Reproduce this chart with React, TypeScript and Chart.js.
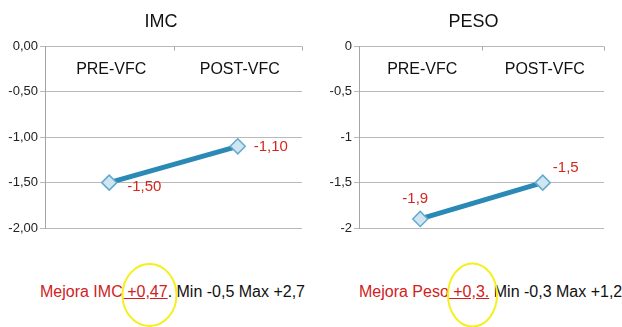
import React, { useEffect, useRef } from 'react';
import { Chart, registerables } from 'chart.js';

Chart.register(...registerables);

// ---- data ----
const categories = ['PRE-VFC', 'POST-VFC'];
const imcValues = [-1.5, -1.1];
const pesoValues = [-1.9, -1.5];
const imcValueLabels = ['-1,50', '-1,10'];
const pesoValueLabels = ['-1,9', '-1,5'];
const yMin = -2;
const yMax = 0;
const yStep = 0.5;

const FONT = '"Liberation Sans", Arial, Helvetica, sans-serif';

type Off = { dx: number; dy: number; align: CanvasTextAlign };

const overlayPlugin = {
  id: 'overlay',
  afterDatasetsDraw(chart: any, _args: any, opts: any) {
    const ctx = chart.ctx as CanvasRenderingContext2D;
    const xs = chart.scales.x;
    const area = chart.chartArea;
    ctx.save();
    // title
    ctx.fillStyle = '#111';
    ctx.font = `18px ${FONT}`;
    ctx.textAlign = 'center';
    ctx.textBaseline = 'middle';
    ctx.fillText(opts.title, opts.titleX, 22);
    const half = (xs.getPixelForValue(1) - xs.getPixelForValue(0)) / 2;
    // small tick marks at the top axis, between categories
    ctx.strokeStyle = '#a9a9a9';
    ctx.lineWidth = 1;
    for (let i = 0; i < categories.length; i++) {
      const px = Math.round(xs.getPixelForValue(i) + half) + 0.5;
      ctx.beginPath();
      ctx.moveTo(px, area.top);
      ctx.lineTo(px, area.top + 4);
      ctx.stroke();
    }
    // category labels inside the plot, below the top axis
    ctx.fillStyle = '#111';
    ctx.font = `16px ${FONT}`;
    ctx.textAlign = 'center';
    ctx.textBaseline = 'middle';
    categories.forEach((c, i) => {
      ctx.fillText(c, xs.getPixelForValue(i) + 2, area.top + 23);
    });
    // value labels
    const meta = chart.getDatasetMeta(0);
    ctx.fillStyle = '#d5261e';
    ctx.font = `15px ${FONT}`;
    const labels: string[] = opts.labels;
    const offs: Off[] = opts.offsets;
    meta.data.forEach((pt: any, i: number) => {
      const o = offs[i];
      ctx.textAlign = o.align;
      ctx.fillText(labels[i], pt.x + o.dx, pt.y + o.dy);
    });
    ctx.restore();
  },
};

function buildConfig(
  title: string,
  titleX: number,
  values: number[],
  valueLabels: string[],
  offsets: Off[],
  fmt: (v: number) => string,
  padR: number,
  yWidth: number
): any {
  return {
    type: 'line',
    data: {
      labels: categories,
      datasets: [
        {
          data: values,
          borderColor: '#2a89b5',
          borderWidth: 5,
          tension: 0,
          pointStyle: 'rectRot',
          pointRadius: 7.5,
          pointBackgroundColor: '#cfe6f2',
          pointBorderColor: '#63abcd',
          pointBorderWidth: 1.5,
        },
      ],
    },
    options: {
      responsive: false,
      animation: false,
      layout: { padding: { left: 0, right: padR, top: 0, bottom: 22 } },
      plugins: {
        legend: { display: false },
        tooltip: { enabled: false },
        title: { display: false },
        overlay: { labels: valueLabels, offsets, title, titleX },
      },
      scales: {
        x: {
          type: 'category',
          position: 'top',
          offset: true,
          ticks: { display: false },
          grid: { display: false },
          border: { display: false },
          afterFit: (s: any) => {
            s.height = 46.5;
          },
        },
        y: {
          min: yMin,
          max: yMax,
          ticks: {
            stepSize: yStep,
            color: '#222',
            font: { family: FONT, size: 13 },
            padding: 2,
            callback: (v: any) => fmt(Number(v)),
          },
          grid: { color: '#b9b9b9', lineWidth: 1, tickLength: 5, drawTicks: true },
          border: { display: true, color: '#a5a5a5', width: 1 },
          afterFit: (s: any) => {
            s.width = yWidth;
          },
        },
      },
    },
    plugins: [overlayPlugin],
  };
}

function ChartCanvas({ config, left }: { config: () => any; left: number }) {
  const ref = useRef<HTMLCanvasElement | null>(null);
  useEffect(() => {
    if (!ref.current) return;
    const chart = new Chart(ref.current, config());
    return () => chart.destroy();
  }, []);
  return (
    <canvas
      ref={ref}
      width={311}
      height={250}
      style={{ position: 'absolute', left, top: 0, width: 311, height: 250 }}
    />
  );
}

const red = '#d0221c';

export default function App() {
  const imcCfg = () =>
    buildConfig(
      'IMC',
      161,
      imcValues,
      imcValueLabels,
      [
        { dx: 18, dy: 4, align: 'left' },
        { dx: 16, dy: 1, align: 'left' },
      ],
      (v) => v.toFixed(2).replace('.', ','),
      9,
      45
    );
  const pesoCfg = () =>
    buildConfig(
      'PESO',
      162.5,
      pesoValues,
      pesoValueLabels,
      [
        { dx: -5, dy: -20, align: 'center' },
        { dx: 23, dy: -15, align: 'center' },
      ],
      (v) => String(v).replace('.', ','),
      18,
      48
    );
  const textStyle: React.CSSProperties = {
    position: 'absolute',
    top: 282,
    fontFamily: FONT,
    fontSize: 16,
    lineHeight: '20px',
    whiteSpace: 'nowrap',
    color: '#111',
  };
  return (
    <div
      style={{
        position: 'absolute',
        left: 0,
        top: 0,
        width: 622,
        height: 327,
        background: '#fff',
        overflow: 'hidden',
      }}
    >
      <ChartCanvas config={imcCfg} left={0} />
      <ChartCanvas config={pesoCfg} left={311} />
      <div style={{ ...textStyle, left: 40 }}>
        <span style={{ color: red }}>Mejora IMC</span>
        <span style={{ color: red, textDecoration: 'underline' }}> +0,47</span>
        <span>. Min -0,5 Max +2,7</span>
      </div>
      <div style={{ ...textStyle, left: 359 }}>
        <span style={{ color: red }}>Mejora Peso</span>
        <span style={{ color: red, textDecoration: 'underline' }}> +0,3.</span>
        <span> Min -0,3 Max +1,2</span>
      </div>
      <svg
        width={622}
        height={327}
        style={{ position: 'absolute', left: 0, top: 0, pointerEvents: 'none' }}
      >
        <ellipse cx={149.5} cy={295} rx={27} ry={31} fill="none" stroke="#f4f01c" strokeWidth={2} />
        <ellipse cx={472.5} cy={295} rx={24.5} ry={31.5} fill="none" stroke="#f4f01c" strokeWidth={2} />
      </svg>
    </div>
  );
}
